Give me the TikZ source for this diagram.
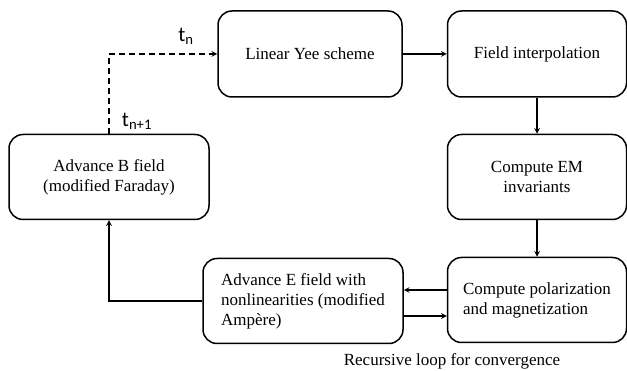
\documentclass[tikz,border=0pt]{standalone}
\usepackage{fontspec}
\setmainfont{Liberation Serif}
\newfontfamily\labfont{Carlito}
\usetikzlibrary{arrows}

\begin{document}
\begin{tikzpicture}[x=1pt,y=-1pt,>=stealth,
    stepbox/.style={draw,line width=1.5pt,rounded corners=14pt,inner sep=0pt,
        font=\fontsize{17}{20}\selectfont},
    link/.style={line width=1.5pt,->}]
\useasboundingbox (0,0) rectangle (627,371);

%blocs
\node[stepbox,minimum width=184pt,minimum height=86pt,align=center] (yee) at (310,54) {Linear Yee scheme};
\node[stepbox,minimum width=179pt,minimum height=86pt,align=center] (interp) at (537,54) {Field interpolation};
\node[stepbox,minimum width=179pt,minimum height=85pt,align=center] (inv) at (537,177) {Compute EM\\invariants};
\node[stepbox,minimum width=179pt,minimum height=85pt,align=left] (pol) at (537,300) {Compute polarization\\and magnetization};
\node[stepbox,minimum width=200pt,minimum height=85pt,align=left] (efield) at (303,301) {Advance E field with\\nonlinearities (modified\\Amp\`ere)};
\node[stepbox,minimum width=200pt,minimum height=85pt,align=center] (bfield) at (109,177) {Advance B field\\(modified Faraday)};
%fin

%fleches
\draw[link] (yee) -- (interp);
\draw[link] (interp) -- (inv);
\draw[link] (inv) -- (pol);
\draw[link] ([yshift=10pt]pol.west) -- ([yshift=10pt]pol.west -| efield.east);
\draw[link] ([yshift=-15pt]efield.east) -- ([yshift=-15pt]efield.east -| pol.west);
\draw[link] (efield.west) -| (bfield.south);
\draw[link,dashed,dash pattern=on 6pt off 4pt] (bfield.north) |- (yee.west);
%fin

%textes
\node[font=\labfont\fontsize{21}{24}\selectfont] (tn) at (186,36) {t\textsubscript{n}};
\node[font=\labfont\fontsize{21}{24}\selectfont] (tnp) at (137,121) {t\textsubscript{n+1}};
\node[font=\fontsize{17}{20}\selectfont] (loop) at (452,361) {Recursive loop for convergence};
\end{tikzpicture}
\end{document}
